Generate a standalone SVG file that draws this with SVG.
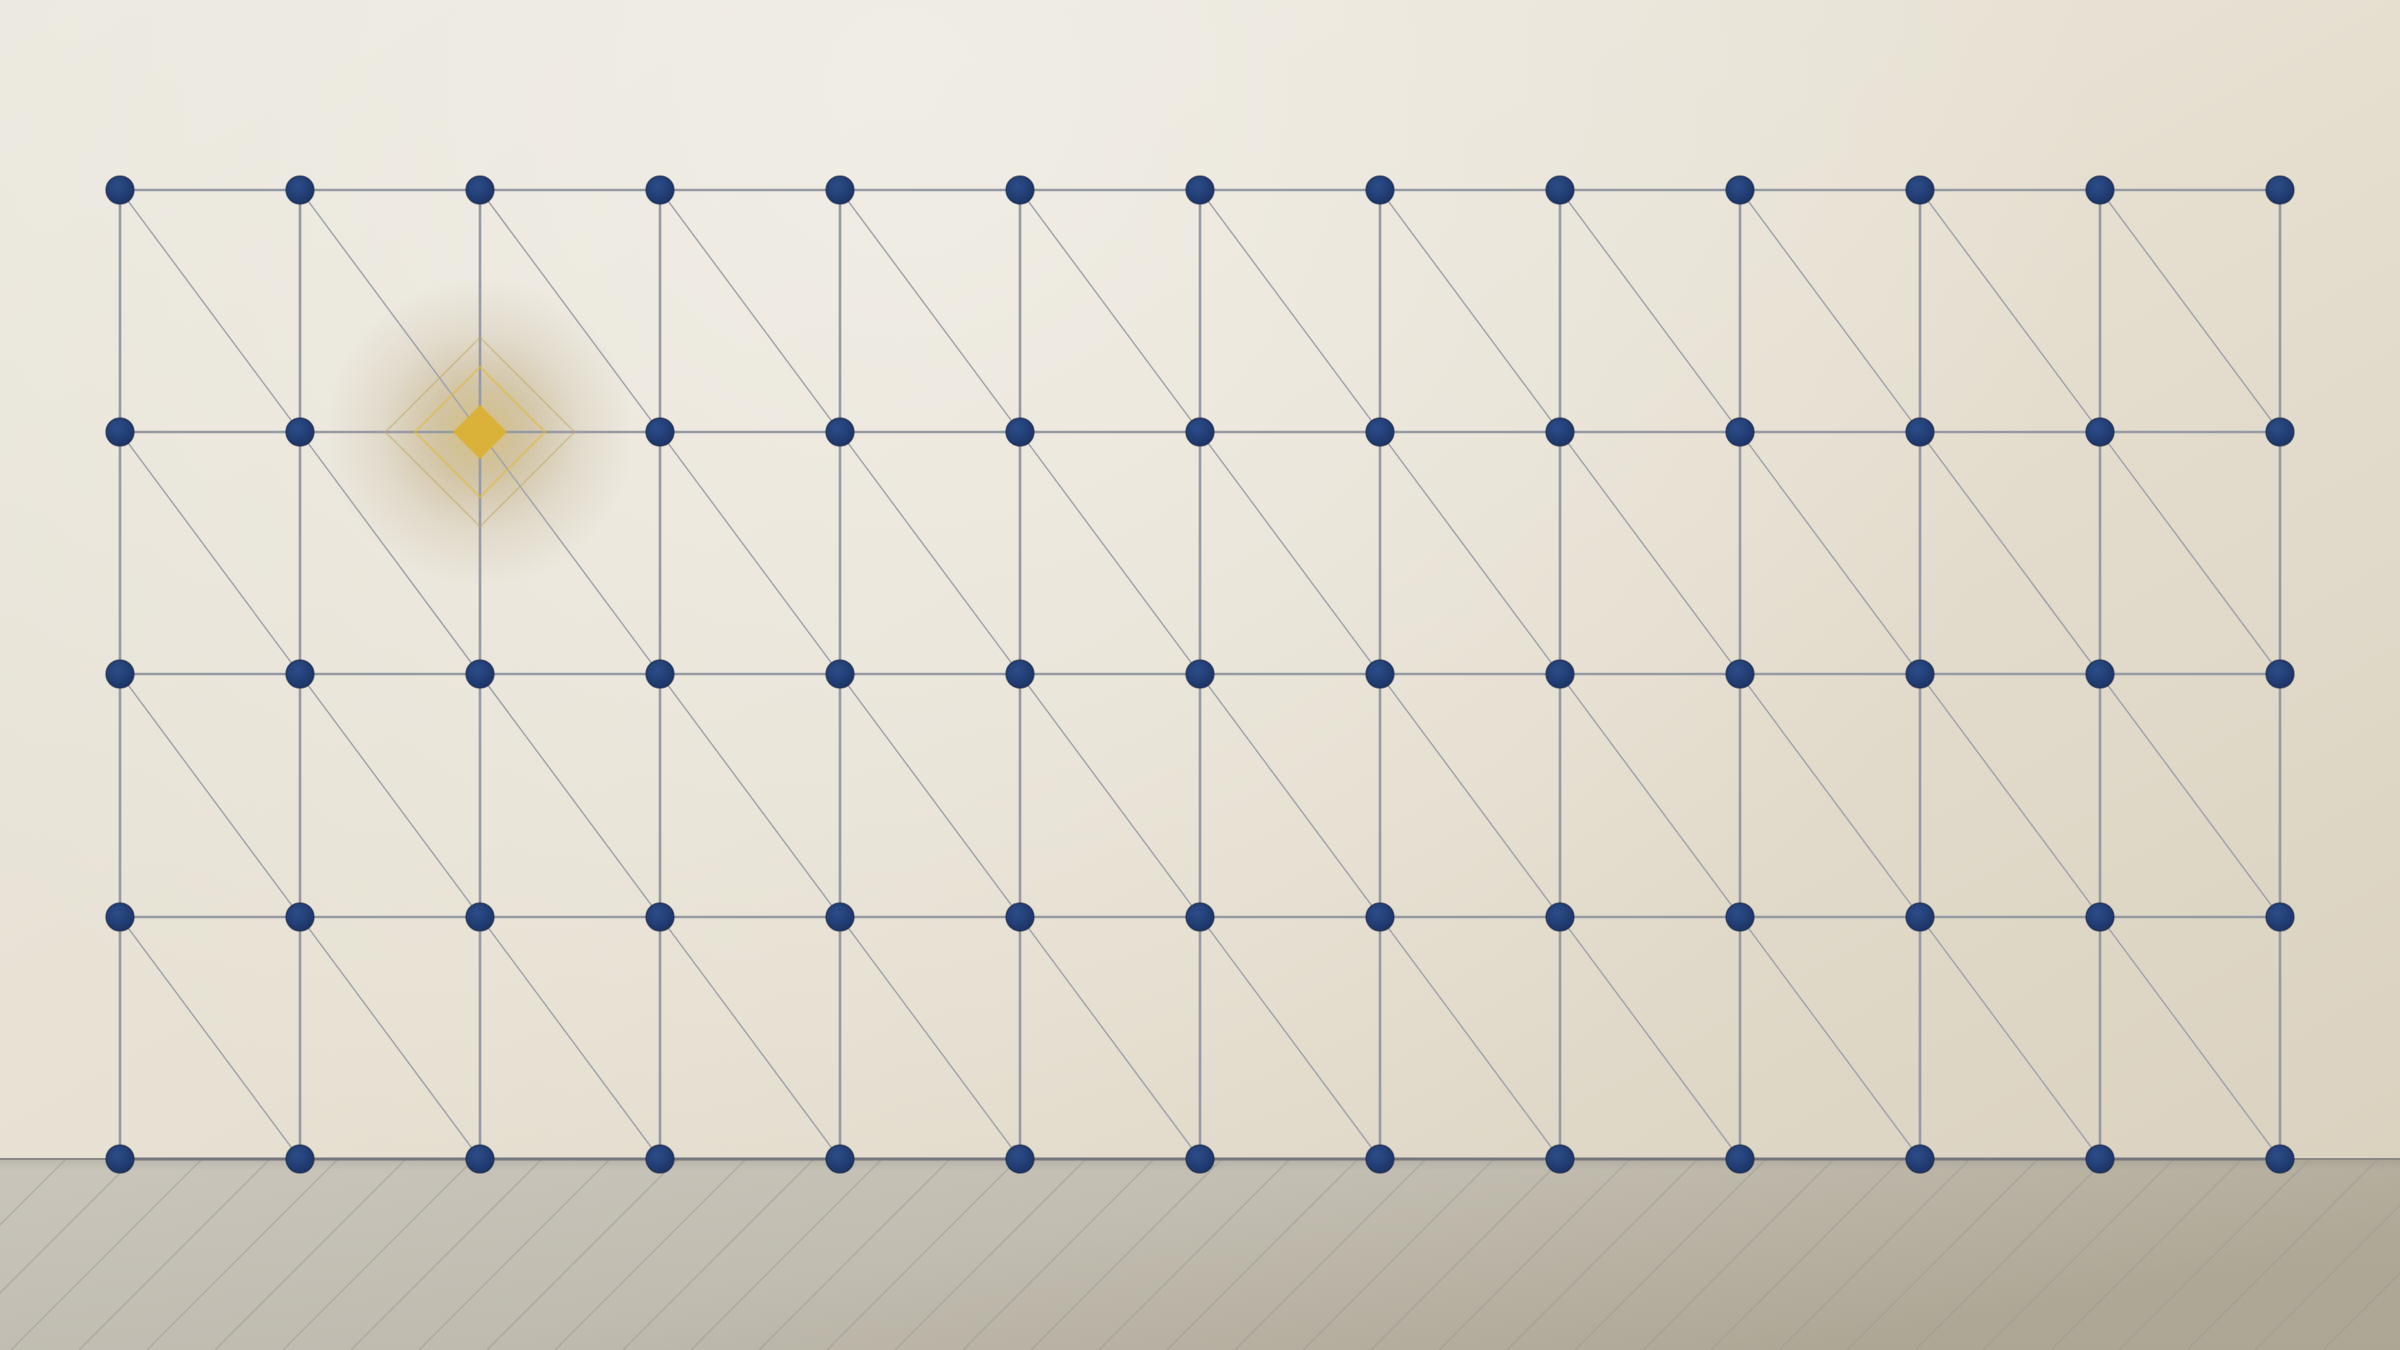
<svg xmlns="http://www.w3.org/2000/svg" width="2400" height="1350" viewBox="0 0 2400 1350">
<defs>
<linearGradient id="wall" x1="0" y1="0" x2="1" y2="1">
<stop offset="0" stop-color="#ebe8df"/>
<stop offset="0.45" stop-color="#e7e1d3"/>
<stop offset="1" stop-color="#d9d0bd"/>
</linearGradient>
<radialGradient id="light" cx="900" cy="80" r="1200" gradientUnits="userSpaceOnUse">
<stop offset="0" stop-color="#f2efe8" stop-opacity="0.8"/>
<stop offset="1" stop-color="#f2efe8" stop-opacity="0"/>
</radialGradient>
<linearGradient id="floor" x1="0" y1="0" x2="1" y2="0.4">
<stop offset="0" stop-color="#cbc7bd"/>
<stop offset="0.5" stop-color="#c5c0b4"/>
<stop offset="1" stop-color="#b2aa98"/>
</linearGradient>
<linearGradient id="floorShade" x1="0" y1="0" x2="0" y2="1">
<stop offset="0" stop-color="#6f6e6a" stop-opacity="0.18"/>
<stop offset="0.06" stop-color="#6f6e6a" stop-opacity="0.02"/>
<stop offset="1" stop-color="#6f6e6a" stop-opacity="0.06"/>
</linearGradient>
<radialGradient id="dotFill" cx="0.4" cy="0.35" r="0.7">
<stop offset="0" stop-color="#2c4d8a"/>
<stop offset="1" stop-color="#1b3365"/>
</radialGradient>
<radialGradient id="glow" cx="480" cy="432" r="155" gradientUnits="userSpaceOnUse">
<stop offset="0" stop-color="#c9a444" stop-opacity="0.6"/>
<stop offset="0.3" stop-color="#ae9352" stop-opacity="0.42"/>
<stop offset="0.65" stop-color="#a58f62" stop-opacity="0.15"/>
<stop offset="1" stop-color="#a58f62" stop-opacity="0"/>
</radialGradient>
<clipPath id="floorClip"><rect x="0" y="1159" width="2400" height="191"/></clipPath>
<style>
.grid{stroke:#969aa3;stroke-width:2.6;fill:none}
.diag{stroke:#a2a5ac;stroke-width:1.5;fill:none}
.hatch{stroke:#999892;stroke-width:1.3;opacity:0.55;fill:none}
.node{fill:url(#dotFill);stroke:#1b2644;stroke-width:1.5;stroke-opacity:0.6}
</style>
</defs>

<rect x="0" y="0" width="2400" height="1350" fill="url(#wall)"/>
<rect x="0" y="0" width="2400" height="1159" fill="url(#light)"/>

<g id="floor">
<rect x="0" y="1159" width="2400" height="191" fill="url(#floor)"/>
<rect x="0" y="1159" width="2400" height="191" fill="url(#floorShade)"/>
<g clip-path="url(#floorClip)">
<path class="hatch" d="M-125 1350 L66 1159 M-57 1350 L134 1159 M11 1350 L202 1159 M79 1350 L270 1159 M147 1350 L338 1159 M215 1350 L406 1159 M283 1350 L474 1159 M351 1350 L542 1159 M419 1350 L610 1159 M487 1350 L678 1159 M555 1350 L746 1159 M623 1350 L814 1159 M691 1350 L882 1159 M759 1350 L950 1159 M827 1350 L1018 1159 M895 1350 L1086 1159 M963 1350 L1154 1159 M1031 1350 L1222 1159 M1099 1350 L1290 1159 M1167 1350 L1358 1159 M1235 1350 L1426 1159 M1303 1350 L1494 1159 M1371 1350 L1562 1159 M1439 1350 L1630 1159 M1507 1350 L1698 1159 M1575 1350 L1766 1159 M1643 1350 L1834 1159 M1711 1350 L1902 1159 M1779 1350 L1970 1159 M1847 1350 L2038 1159 M1915 1350 L2106 1159 M1983 1350 L2174 1159 M2051 1350 L2242 1159 M2119 1350 L2310 1159 M2187 1350 L2378 1159 M2255 1350 L2446 1159 M2323 1350 L2514 1159"/>
</g>
<line x1="0" y1="1159" x2="2400" y2="1159" stroke="#8a8985" stroke-width="2"/>
</g>

<g id="glow-area">
<circle cx="480" cy="432" r="155" fill="url(#glow)"/>
</g>

<g id="connectors">
<path class="diag" d="M120 190 L840 1159 M300 190 L1020 1159 M480 190 L1200 1159 M660 190 L1380 1159 M840 190 L1560 1159 M1020 190 L1740 1159 M1200 190 L1920 1159 M1380 190 L2100 1159 M1560 190 L2280 1159 M1740 190 L2280 917 M1920 190 L2280 674 M2100 190 L2280 432 M120 432 L660 1159 M120 674 L480 1159 M120 917 L300 1159"/>
<path class="grid" d="M120 190 H2280 M120 432 H2280 M120 674 H2280 M120 917 H2280"/>
<path class="grid" d="M120 190 V1159 M300 190 V1159 M480 190 V1159 M660 190 V1159 M840 190 V1159 M1020 190 V1159 M1200 190 V1159 M1380 190 V1159 M1560 190 V1159 M1740 190 V1159 M1920 190 V1159 M2100 190 V1159 M2280 190 V1159"/>
<path d="M120 1159 H2280" stroke="#75777c" stroke-width="3" fill="none"/>
</g>

<g id="highlight">
<path d="M480 337.5 L574.5 432 L480 526.5 L385.5 432 Z" fill="none" stroke="#bfa65e" stroke-width="1.5" stroke-opacity="0.55"/>
<path d="M480 367 L545 432 L480 497 L415 432 Z" fill="none" stroke="#e0bb50" stroke-width="2" stroke-opacity="0.7"/>
<path d="M480 405 L507 432 L480 459 L453 432 Z" fill="#dab239"/>
</g>

<g id="nodes">
<g id="n0-0"><circle class="node" cx="120" cy="190" r="14"/></g>
<g id="n1-0"><circle class="node" cx="300" cy="190" r="14"/></g>
<g id="n2-0"><circle class="node" cx="480" cy="190" r="14"/></g>
<g id="n3-0"><circle class="node" cx="660" cy="190" r="14"/></g>
<g id="n4-0"><circle class="node" cx="840" cy="190" r="14"/></g>
<g id="n5-0"><circle class="node" cx="1020" cy="190" r="14"/></g>
<g id="n6-0"><circle class="node" cx="1200" cy="190" r="14"/></g>
<g id="n7-0"><circle class="node" cx="1380" cy="190" r="14"/></g>
<g id="n8-0"><circle class="node" cx="1560" cy="190" r="14"/></g>
<g id="n9-0"><circle class="node" cx="1740" cy="190" r="14"/></g>
<g id="n10-0"><circle class="node" cx="1920" cy="190" r="14"/></g>
<g id="n11-0"><circle class="node" cx="2100" cy="190" r="14"/></g>
<g id="n12-0"><circle class="node" cx="2280" cy="190" r="14"/></g>

<g id="n0-1"><circle class="node" cx="120" cy="432" r="14"/></g>
<g id="n1-1"><circle class="node" cx="300" cy="432" r="14"/></g>
<g id="n3-1"><circle class="node" cx="660" cy="432" r="14"/></g>
<g id="n4-1"><circle class="node" cx="840" cy="432" r="14"/></g>
<g id="n5-1"><circle class="node" cx="1020" cy="432" r="14"/></g>
<g id="n6-1"><circle class="node" cx="1200" cy="432" r="14"/></g>
<g id="n7-1"><circle class="node" cx="1380" cy="432" r="14"/></g>
<g id="n8-1"><circle class="node" cx="1560" cy="432" r="14"/></g>
<g id="n9-1"><circle class="node" cx="1740" cy="432" r="14"/></g>
<g id="n10-1"><circle class="node" cx="1920" cy="432" r="14"/></g>
<g id="n11-1"><circle class="node" cx="2100" cy="432" r="14"/></g>
<g id="n12-1"><circle class="node" cx="2280" cy="432" r="14"/></g>

<g id="n0-2"><circle class="node" cx="120" cy="674" r="14"/></g>
<g id="n1-2"><circle class="node" cx="300" cy="674" r="14"/></g>
<g id="n2-2"><circle class="node" cx="480" cy="674" r="14"/></g>
<g id="n3-2"><circle class="node" cx="660" cy="674" r="14"/></g>
<g id="n4-2"><circle class="node" cx="840" cy="674" r="14"/></g>
<g id="n5-2"><circle class="node" cx="1020" cy="674" r="14"/></g>
<g id="n6-2"><circle class="node" cx="1200" cy="674" r="14"/></g>
<g id="n7-2"><circle class="node" cx="1380" cy="674" r="14"/></g>
<g id="n8-2"><circle class="node" cx="1560" cy="674" r="14"/></g>
<g id="n9-2"><circle class="node" cx="1740" cy="674" r="14"/></g>
<g id="n10-2"><circle class="node" cx="1920" cy="674" r="14"/></g>
<g id="n11-2"><circle class="node" cx="2100" cy="674" r="14"/></g>
<g id="n12-2"><circle class="node" cx="2280" cy="674" r="14"/></g>

<g id="n0-3"><circle class="node" cx="120" cy="917" r="14"/></g>
<g id="n1-3"><circle class="node" cx="300" cy="917" r="14"/></g>
<g id="n2-3"><circle class="node" cx="480" cy="917" r="14"/></g>
<g id="n3-3"><circle class="node" cx="660" cy="917" r="14"/></g>
<g id="n4-3"><circle class="node" cx="840" cy="917" r="14"/></g>
<g id="n5-3"><circle class="node" cx="1020" cy="917" r="14"/></g>
<g id="n6-3"><circle class="node" cx="1200" cy="917" r="14"/></g>
<g id="n7-3"><circle class="node" cx="1380" cy="917" r="14"/></g>
<g id="n8-3"><circle class="node" cx="1560" cy="917" r="14"/></g>
<g id="n9-3"><circle class="node" cx="1740" cy="917" r="14"/></g>
<g id="n10-3"><circle class="node" cx="1920" cy="917" r="14"/></g>
<g id="n11-3"><circle class="node" cx="2100" cy="917" r="14"/></g>
<g id="n12-3"><circle class="node" cx="2280" cy="917" r="14"/></g>

<g id="n0-4"><circle class="node" cx="120" cy="1159" r="14"/></g>
<g id="n1-4"><circle class="node" cx="300" cy="1159" r="14"/></g>
<g id="n2-4"><circle class="node" cx="480" cy="1159" r="14"/></g>
<g id="n3-4"><circle class="node" cx="660" cy="1159" r="14"/></g>
<g id="n4-4"><circle class="node" cx="840" cy="1159" r="14"/></g>
<g id="n5-4"><circle class="node" cx="1020" cy="1159" r="14"/></g>
<g id="n6-4"><circle class="node" cx="1200" cy="1159" r="14"/></g>
<g id="n7-4"><circle class="node" cx="1380" cy="1159" r="14"/></g>
<g id="n8-4"><circle class="node" cx="1560" cy="1159" r="14"/></g>
<g id="n9-4"><circle class="node" cx="1740" cy="1159" r="14"/></g>
<g id="n10-4"><circle class="node" cx="1920" cy="1159" r="14"/></g>
<g id="n11-4"><circle class="node" cx="2100" cy="1159" r="14"/></g>
<g id="n12-4"><circle class="node" cx="2280" cy="1159" r="14"/></g>
</g>
</svg>
